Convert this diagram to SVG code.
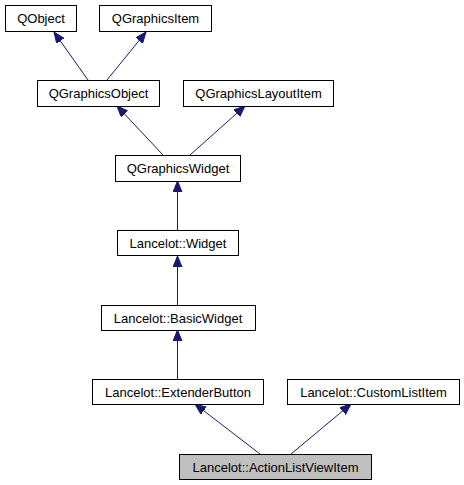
<svg xmlns="http://www.w3.org/2000/svg" width="464" height="485" viewBox="0 0 464 485">
<defs>
<style>
.n rect{fill:#ffffff;stroke:#000000;stroke-width:1}
.n.hl rect{fill:#bfbfbf}
.n text{font-family:"Liberation Sans",Arial,Helvetica,sans-serif;font-size:13px;fill:#000000;text-anchor:middle}
.e line{stroke:#191970;stroke-width:1;fill:none;marker-end:url(#ah)}
</style>
<marker id="ah" markerUnits="userSpaceOnUse" markerWidth="12" markerHeight="10" refX="11" refY="4.5" orient="auto">
<path d="M0,0 L11,4.5 L0,9 Z" fill="#191970" stroke="#191970"/>
</marker>
</defs>
<rect width="464" height="485" fill="#ffffff"/>
<g id="connectors" class="e">
<line x1="88" y1="80" x2="54" y2="32"/>
<line x1="107" y1="80" x2="146" y2="32"/>
<line x1="163" y1="155" x2="117" y2="106"/>
<line x1="190" y1="155" x2="245" y2="106"/>
<line x1="177.5" y1="230" x2="177.5" y2="181"/>
<line x1="177.5" y1="305" x2="177.5" y2="256"/>
<line x1="177.5" y1="379" x2="177.5" y2="330"/>
<line x1="260" y1="454" x2="195" y2="404"/>
<line x1="291" y1="454" x2="351" y2="404"/>
</g>
<g id="QObject" class="n"><rect x="5.5" y="5.5" width="71" height="26"/><text x="41" y="23">QObject</text></g>
<g id="QGraphicsItem" class="n"><rect x="99.5" y="5.5" width="112" height="26"/><text x="155.5" y="23">QGraphicsItem</text></g>
<g id="QGraphicsObject" class="n"><rect x="37.5" y="80.5" width="122" height="26"/><text x="98.5" y="98">QGraphicsObject</text></g>
<g id="QGraphicsLayoutItem" class="n"><rect x="183.5" y="80.5" width="150" height="26"/><text x="258.5" y="98">QGraphicsLayoutItem</text></g>
<g id="QGraphicsWidget" class="n"><rect x="115.5" y="155.5" width="125" height="26"/><text x="178" y="173">QGraphicsWidget</text></g>
<g id="LancelotWidget" class="n"><rect x="117.5" y="230.5" width="121" height="25"/><text x="178" y="247.5">Lancelot::Widget</text></g>
<g id="LancelotBasicWidget" class="n"><rect x="101.5" y="305.5" width="154" height="25"/><text x="178" y="322.5">Lancelot::BasicWidget</text></g>
<g id="LancelotExtenderButton" class="n"><rect x="92.5" y="379.5" width="171" height="25"/><text x="178" y="396.5">Lancelot::ExtenderButton</text></g>
<g id="LancelotCustomListItem" class="n"><rect x="287.5" y="379.5" width="172" height="25"/><text x="373.5" y="396.5">Lancelot::CustomListItem</text></g>
<g id="LancelotActionListViewItem" class="n hl"><rect x="179.5" y="454.5" width="192" height="25"/><text x="275.5" y="471.5">Lancelot::ActionListViewItem</text></g>
</svg>
